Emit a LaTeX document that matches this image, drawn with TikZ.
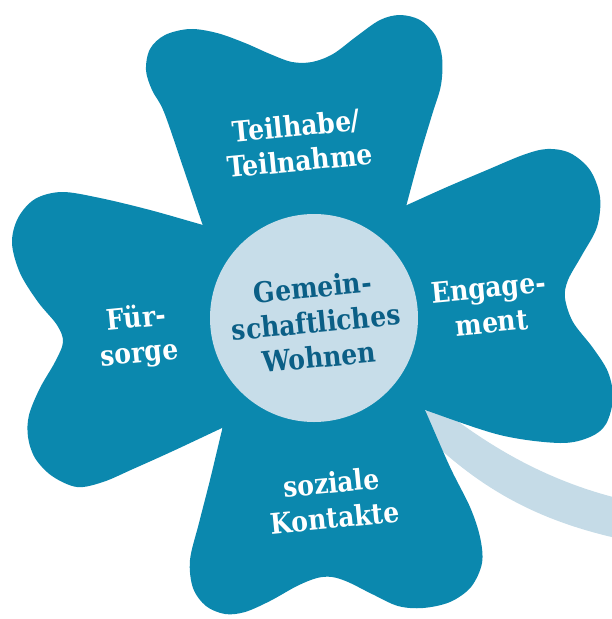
\documentclass[tikz,border=0pt]{standalone}
\usepackage{fontspec}
\setmainfont{DejaVu Serif}[FakeStretch=0.88]
\definecolor{leaf}{HTML}{0B88AE}
\definecolor{pale}{HTML}{C7DDE9}
\definecolor{stemc}{HTML}{C5DBE7}
\definecolor{deep}{HTML}{0B5F86}
\begin{document}
\begin{tikzpicture}[x=1pt,y=-1pt,
  leafshape/.style={fill=leaf},
  lbl/.style={font=\bfseries\fontsize{28.5}{35}\selectfont, text=white, align=center, rotate=5.5, inner sep=0pt},
  ctr/.style={font=\bfseries\fontsize{28.5}{35}\selectfont, text=deep, align=center, rotate=5.5, inner sep=0pt}]
\useasboundingbox (0,0) rectangle (612,619);
\clip (0,0) rectangle (612,619);
% stem
\fill[stemc] (430,400) .. controls (480,440) and (540,480) .. (625,500) -- (625,540) .. controls (540,522) and (480,490) .. (420,430) -- cycle;
% top leaf
\fill[leafshape] plot[smooth cycle, tension=0.55] coordinates {
 (202,223) (183,167) (164,112) (152,90) (146,70) (150,49) (165,35) (190,29) (217,33) (245,43) (270,54) (292,62) (312,62) (333,54) (357,36) (380,20) (400,15) (420,20) (435,35) (442,57) (441,85) (432,115) (420,155) (407,203) (395,250) (383,295) (310,330) (232,305) (217,265)};
% left leaf
\fill[leafshape] plot[smooth cycle, tension=0.55] coordinates {
 (203,225) (150,210) (100,198) (62,192) (35,199) (18,218) (12,243) (20,273) (38,302) (57,325) (63,342) (55,362) (40,388) (29,415) (28,437) (35,458) (52,476) (77,487) (103,482) (133,469) (173,451) (222,428) (265,408) (320,320) (250,238)};
% bottom leaf
\fill[leafshape] plot[smooth cycle, tension=0.55] coordinates {
 (222,430) (210,480) (199,523) (190,560) (193,588) (206,606) (225,614) (245,612) (270,601) (297,586) (317,578) (332,577) (348,582) (372,594) (398,606) (423,608) (450,602) (471,587) (482,563) (480,537) (470,507) (450,467) (425,410) (408,372) (320,320) (232,390)};
% right leaf
\fill[leafshape] plot[smooth cycle, tension=0.55] coordinates {
 (407,205) (447,187) (487,170) (523,155) (547,149) (570,153) (590,170) (600,197) (597,227) (582,255) (568,280) (565,298) (573,322) (593,348) (608,372) (613,398) (606,424) (590,437) (560,443) (500,435) (425,410) (385,396) (330,320) (367,223)};
\fill[leaf] (314,318) circle[radius=115];
\node[circle, fill=pale, minimum size=208pt, inner sep=0pt] (disc) at (314,318) {};
\node[ctr] (mid) at (316,322) {Gemein-\\schaftliches\\Wohnen};
\node[lbl] (top) at (298,143) {Teilhabe/\\Teilnahme};
\node[lbl] (left) at (138,337) {Für-\\sorge};
\node[lbl] (right) at (490,305) {Engage-\\ment};
\node[lbl] (bottom) at (333,500) {soziale\\Kontakte};
\end{tikzpicture}
\end{document}
